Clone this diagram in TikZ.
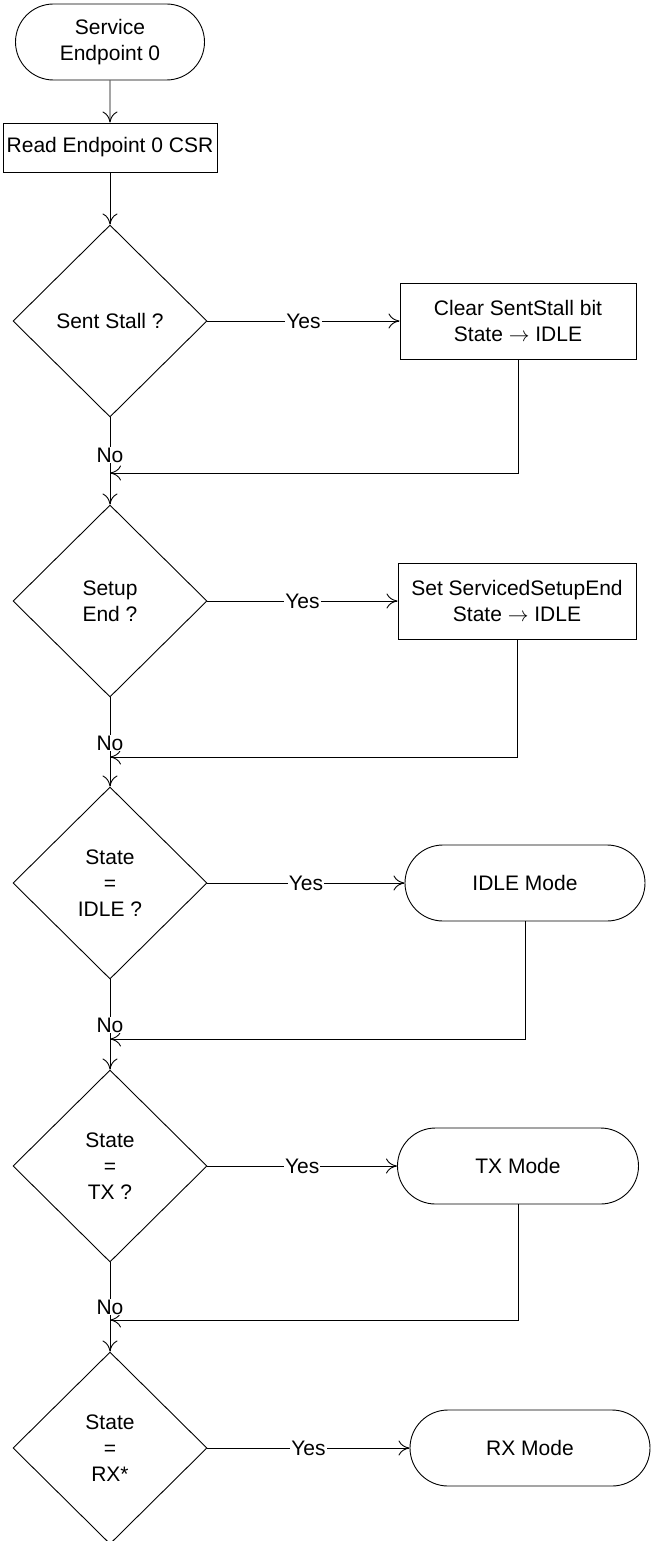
\documentclass[tikz,border=0pt]{standalone}
\usepackage{fontspec}
\setmainfont{Liberation Sans}
\usetikzlibrary{shapes.geometric,shapes.misc,arrows.meta}
\begin{document}
\begin{tikzpicture}[x=1pt,y=-1pt,
  every node/.style={font=\fontsize{21}{26}\selectfont, align=center},
  conn/.style={draw=black, line width=0.9pt},
  arr/.style={conn, -{Computer Modern Rightarrow[length=11pt,width=15pt,line width=0.9pt]}},
  stadium/.style={rounded rectangle, draw, line width=0.9pt, minimum height=76pt, inner sep=0pt},
  procbox/.style={rectangle, draw, line width=0.9pt, inner sep=0pt},
  decision/.style={diamond, draw, line width=0.9pt, minimum width=194pt, minimum height=192pt, inner sep=0pt},
  lbl/.style={fill=white, inner sep=1pt}
]
\useasboundingbox (0,0) rectangle (652,1541);

% main column
\node[stadium, minimum width=189pt] (start) at (110,42) {Service\\Endpoint 0};
\node[procbox, minimum width=214pt, minimum height=49pt] (read) at (110,147.5) {Read Endpoint 0 CSR};
\node[decision] (d1) at (110,321) {Sent Stall ?};
\node[decision] (d2) at (110,601) {Setup\\End ?};
\node[decision] (d3) at (110,883) {State\\=\\IDLE ?};
\node[decision] (d4) at (110,1166) {State\\=\\TX ?};
\node[decision] (d5) at (110,1448) {State\\=\\RX*};

% right column
\node[procbox, minimum width=236pt, minimum height=76pt] (b1) at (518,321) {Clear SentStall bit\\State $\rightarrow$ IDLE};
\node[procbox, minimum width=238pt, minimum height=76pt] (b2) at (517,601) {Set ServicedSetupEnd\\State $\rightarrow$ IDLE};
\node[stadium, minimum width=240pt] (idle) at (525,883) {IDLE Mode};
\node[stadium, minimum width=241pt] (tx) at (518,1166) {TX Mode};
\node[stadium, minimum width=240pt] (rx) at (530,1448) {RX Mode};

% junctions of the return lines
\coordinate (j1) at (110,473);
\coordinate (j2) at (110,757);
\coordinate (j3) at (110,1039);
\coordinate (j4) at (110,1320);

% return lines
\draw[arr] (b1.south) |- (j1);
\draw[arr] (b2.south) |- (j2);
\draw[arr] (idle.south) |- (j3);
\draw[arr] (tx.south) |- (j4);

% main flow
\draw[arr] (start) -- (read);
\draw[arr] (read) -- (d1);
\draw[arr] (d1.south) -- node[lbl, pos=0.43] (no1) {No} (d2.north);
\draw[arr] (d2.south) -- node[lbl, pos=0.51] (no2) {No} (d3.north);
\draw[arr] (d3.south) -- node[lbl, pos=0.505] (no3) {No} (d4.north);
\draw[arr] (d4.south) -- node[lbl, pos=0.5] (no4) {No} (d5.north);

% yes branches
\draw[arr] (d1.east) -- node[lbl] (y1) {Yes} (b1.west);
\draw[arr] (d2.east) -- node[lbl] (y2) {Yes} (b2.west);
\draw[arr] (d3.east) -- node[lbl] (y3) {Yes} (idle.west);
\draw[arr] (d4.east) -- node[lbl] (y4) {Yes} (tx.west);
\draw[arr] (d5.east) -- node[lbl] (y5) {Yes} (rx.west);
\end{tikzpicture}
\end{document}
